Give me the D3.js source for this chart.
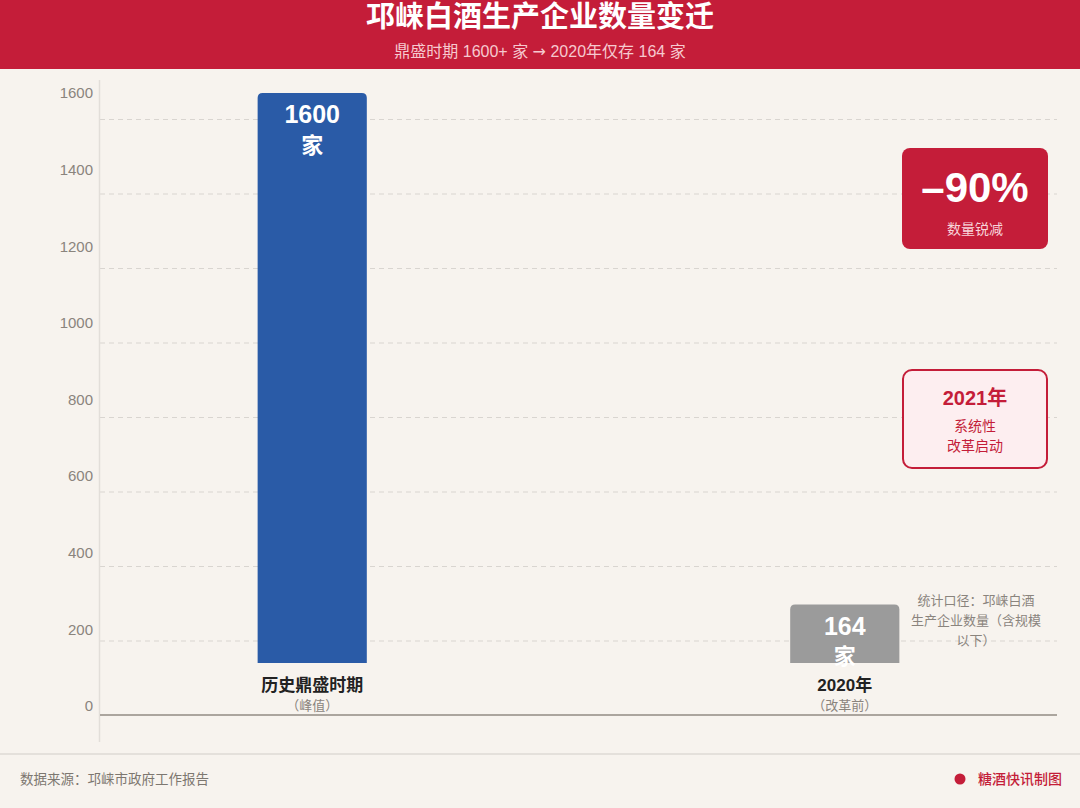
<!DOCTYPE html>
<html>
<head>
<meta charset="utf-8">
<script src="https://cdn.jsdelivr.net/npm/d3@7"></script>
<style>
  html, body { margin: 0; padding: 0; background: #f7f3ee; }
  svg { display: block; font-family: "Liberation Sans", "Noto Sans CJK SC", sans-serif; }
</style>
</head>
<body>
<svg id="chart" width="1080" height="808"></svg>
<script>
const categories = ["历史鼎盛时期", "2020年"];
const subLabels = ["（峰值）", "（改革前）"];
const values = [1600, 164];
const unitLabel = "家";
const tickValues = [0, 200, 400, 600, 800, 1000, 1200, 1400, 1600];
const gridValues = [200, 400, 600, 800, 1000, 1200, 1400, 1600];
const titleText = "邛崃白酒生产企业数量变迁";
const subtitleParts = ["鼎盛时期 1600+ 家 ", "→", " 2020年仅存 164 家"];
const noteLines = ["统计口径：邛崃白酒", "生产企业数量（含规模", "以下）"];
const dropPct = "–90%";
const dropLabel = "数量锐减";
const reformLines = ["2021年", "系统性", "改革启动"];
const sourceText = "数据来源：邛崃市政府工作报告";
const creditText = "糖酒快讯制图";

const W = 1080, H = 808;
const RED = "#c41d39", BLUE = "#2a5ba7", GRAY = "#9b9b9b";
const svg = d3.select("#chart");

svg.append("rect").attr("width", W).attr("height", H).attr("fill", "#f7f3ee");

// header
svg.append("rect").attr("width", W).attr("height", 69).attr("fill", RED);
svg.append("text").attr("x", W / 2).attr("y", 17).attr("text-anchor", "middle")
  .attr("dominant-baseline", "central").attr("fill", "#fff")
  .attr("font-size", 29).attr("font-weight", 700).text(titleText);
const sub = svg.append("text").attr("x", W / 2).attr("y", 51).attr("text-anchor", "middle")
  .attr("dominant-baseline", "central").attr("fill", "#f6c9cf")
  .attr("font-size", 16);
sub.selectAll("tspan").data(subtitleParts).join("tspan")
  .attr("font-family", (d, i) => i === 1 ? "\"DejaVu Sans\", sans-serif" : null)
  .text(d => d);

// scales
const x = d3.scaleBand().domain(categories).range([100, 1057])
  .paddingInner(0.795).paddingOuter(0.296);
const yBar = d3.scaleLinear().domain([0, 1600]).range([663, 93]);
const yTick = d3.scaleLinear().domain([0, 1600]).range([706, 93]);
const yGrid = d3.scaleLinear().domain([0, 1600]).range([715, 119]);

// grid lines
const grid = svg.append("g").attr("transform", "translate(100,0)")
  .call(d3.axisLeft(yGrid).tickValues(gridValues).tickSize(-957).tickFormat(""));
grid.select(".domain").remove();
grid.selectAll("line").attr("stroke", "#d9d5d0").attr("stroke-dasharray", "5,4");

// left axis line
svg.append("line").attr("x1", 99.5).attr("x2", 99.5).attr("y1", 80).attr("y2", 742)
  .attr("stroke", "#e2ded9").attr("stroke-width", 1.5);

// tick labels
const ax = svg.append("g").attr("transform", "translate(93,0)")
  .call(d3.axisLeft(yTick).tickValues(tickValues).tickSize(0).tickPadding(0).tickFormat(d3.format("d")));
ax.select(".domain").remove();
ax.selectAll("text").attr("fill", "#8a847d").attr("font-size", 15)
  .attr("font-family", "\"Liberation Sans\", \"Noto Sans CJK SC\", sans-serif");

// baseline
svg.append("line").attr("x1", 100).attr("x2", 1057).attr("y1", 715).attr("y2", 715)
  .attr("stroke", "#aba59e").attr("stroke-width", 2);

// bars
const r = 5;
function barPath(x0, w, yTop, yBot) {
  return `M${x0},${yBot}V${yTop + r}Q${x0},${yTop} ${x0 + r},${yTop}H${x0 + w - r}Q${x0 + w},${yTop} ${x0 + w},${yTop + r}V${yBot}Z`;
}
const colors = [BLUE, GRAY];
const bars = svg.append("g").selectAll("g").data(categories).join("g");
bars.append("path")
  .attr("d", (c, i) => barPath(x(c), x.bandwidth(), yBar(values[i]), yBar(0)))
  .attr("fill", (c, i) => colors[i]);
bars.append("text").attr("x", c => x(c) + x.bandwidth() / 2)
  .attr("y", (c, i) => yBar(values[i]) + 21)
  .attr("text-anchor", "middle").attr("dominant-baseline", "central")
  .attr("fill", "#fff").attr("font-size", 25).attr("font-weight", 700)
  .text((c, i) => values[i]);
bars.append("text").attr("x", c => x(c) + x.bandwidth() / 2)
  .attr("y", (c, i) => yBar(values[i]) + 52)
  .attr("text-anchor", "middle").attr("dominant-baseline", "central")
  .attr("fill", "#fff").attr("font-size", 22).attr("font-weight", 700)
  .text(unitLabel);
bars.append("text").attr("x", c => x(c) + x.bandwidth() / 2)
  .attr("y", yBar(0) + 22)
  .attr("text-anchor", "middle").attr("dominant-baseline", "central")
  .attr("fill", "#222").attr("font-size", 17).attr("font-weight", 700)
  .text(c => c);
bars.append("text").attr("x", c => x(c) + x.bandwidth() / 2)
  .attr("y", yBar(0) + 42)
  .attr("text-anchor", "middle").attr("dominant-baseline", "central")
  .attr("fill", "#8a847d").attr("font-size", 13)
  .text((c, i) => subLabels[i]);

// red box
const bx = 902, bw = 146;
svg.append("rect").attr("x", bx).attr("y", 148).attr("width", bw).attr("height", 101)
  .attr("rx", 8).attr("fill", RED);
svg.append("text").attr("x", bx + bw / 2).attr("y", 187).attr("text-anchor", "middle")
  .attr("dominant-baseline", "central").attr("fill", "#fff")
  .attr("font-size", 42).attr("font-weight", 700).text(dropPct);
svg.append("text").attr("x", bx + bw / 2).attr("y", 229).attr("text-anchor", "middle")
  .attr("dominant-baseline", "central").attr("fill", "#f8d4d9")
  .attr("font-size", 14).text(dropLabel);

// reform box
svg.append("rect").attr("x", bx + 1).attr("y", 370).attr("width", bw - 2).attr("height", 98)
  .attr("rx", 9).attr("fill", "#fdeef0").attr("stroke", RED).attr("stroke-width", 2);
svg.append("text").attr("x", bx + bw / 2).attr("y", 398).attr("text-anchor", "middle")
  .attr("dominant-baseline", "central").attr("fill", RED)
  .attr("font-size", 20).attr("font-weight", 700).text(reformLines[0]);
[426, 446].forEach((yy, i) => {
  svg.append("text").attr("x", bx + bw / 2).attr("y", yy).attr("text-anchor", "middle")
    .attr("dominant-baseline", "central").attr("fill", RED)
    .attr("font-size", 14).text(reformLines[i + 1]);
});

// note
noteLines.forEach((t, i) => {
  svg.append("text").attr("x", 976).attr("y", 600 + i * 20).attr("text-anchor", "middle")
    .attr("dominant-baseline", "central").attr("fill", "#8a847d")
    .attr("font-size", 13).text(t);
});

// footer
svg.append("line").attr("x1", 0).attr("x2", W).attr("y1", 754).attr("y2", 754)
  .attr("stroke", "#dedad5").attr("stroke-width", 1.5);
svg.append("text").attr("x", 20).attr("y", 779).attr("dominant-baseline", "central")
  .attr("fill", "#7d7770").attr("font-size", 13.5).text(sourceText);
svg.append("circle").attr("cx", 960).attr("cy", 779).attr("r", 5.5).attr("fill", RED);
svg.append("text").attr("x", 1062).attr("y", 779).attr("text-anchor", "end")
  .attr("dominant-baseline", "central").attr("fill", RED)
  .attr("font-size", 14).attr("font-weight", 500).text(creditText);
</script>
</body>
</html>
